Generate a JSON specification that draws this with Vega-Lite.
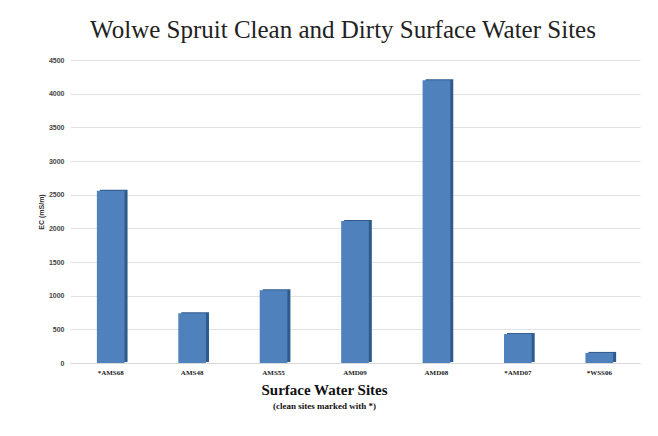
{
  "$schema": "https://vega.github.io/schema/vega-lite/v6.json",
  "autosize": "none",
  "width": 570,
  "height": 303,
  "padding": {"left": 70, "top": 60, "right": 18, "bottom": 73},
  "background": "white",
  "title": {
    "text": "Wolwe Spruit Clean and Dirty Surface Water Sites",
    "font": "Liberation Serif",
    "fontSize": 25,
    "fontWeight": "normal",
    "color": "#222222",
    "anchor": "middle",
    "frame": "group",
    "dx": -12,
    "offset": 13
  },
  "data": {
    "values": [
      {"site": "*AMS68", "ec": 2560},
      {"site": "AMS48", "ec": 740},
      {"site": "AMS55", "ec": 1080},
      {"site": "AMD09", "ec": 2110},
      {"site": "AMD08", "ec": 4200},
      {"site": "*AMD07", "ec": 430},
      {"site": "*WSS06", "ec": 150}
    ]
  },
  "encoding": {
    "x": {
      "field": "site",
      "type": "nominal",
      "sort": null,
      "scale": {"paddingInner": 0.66, "paddingOuter": 0.33}
    },
    "y": {
      "field": "ec",
      "type": "quantitative",
      "scale": {"domain": [0, 4500], "nice": false},
      "axis": {
        "title": "EC (mS/m)",
        "titleFont": "Liberation Sans",
        "titleFontSize": 7,
        "titleFontWeight": "bold",
        "titleColor": "#333333",
        "titlePadding": 4,
        "values": [0, 500, 1000, 1500, 2000, 2500, 3000, 3500, 4000, 4500],
        "format": "d",
        "labelFont": "Liberation Sans",
        "labelFontSize": 7,
        "labelFontWeight": "bold",
        "labelColor": "#444444",
        "labelPadding": 6,
        "domain": false,
        "ticks": false,
        "grid": true,
        "gridColor": "#e2e2e2",
        "gridWidth": 1
      }
    }
  },
  "layer": [
    {
      "mark": {"type": "bar", "color": "#2f5a8c", "xOffset": 3, "yOffset": -1},
      "encoding": {
        "x": {
          "field": "site",
          "type": "nominal",
          "sort": null,
          "axis": {
            "orient": "bottom",
            "labels": false,
            "ticks": false,
            "domain": false,
            "title": "(clean sites marked with *)",
            "titleFont": "Liberation Serif",
            "titleFontSize": 9,
            "titleFontWeight": "bold",
            "titleColor": "#111111",
            "titleX": 254,
            "titleAnchor": "middle",
            "titlePadding": 38
          }
        }
      }
    },
    {
      "mark": {"type": "bar", "color": "#4f81bd"},
      "encoding": {
        "x": {
          "field": "site",
          "type": "nominal",
          "sort": null,
          "axis": {
            "orient": "bottom",
            "labelAngle": 0,
            "labelFont": "Liberation Serif",
            "labelFontSize": 7,
            "labelFontWeight": "bold",
            "labelColor": "#222222",
            "labelPadding": 5,
            "ticks": false,
            "domain": true,
            "domainColor": "#d8d8d8",
            "title": "Surface Water Sites",
            "titleFont": "Liberation Serif",
            "titleFontSize": 15,
            "titleFontWeight": "bold",
            "titleColor": "#111111",
            "titleX": 254,
            "titleAnchor": "middle",
            "titlePadding": 7
          }
        }
      }
    }
  ],
  "resolve": {"axis": {"x": "independent"}},
  "config": {"view": {"stroke": null}}
}
